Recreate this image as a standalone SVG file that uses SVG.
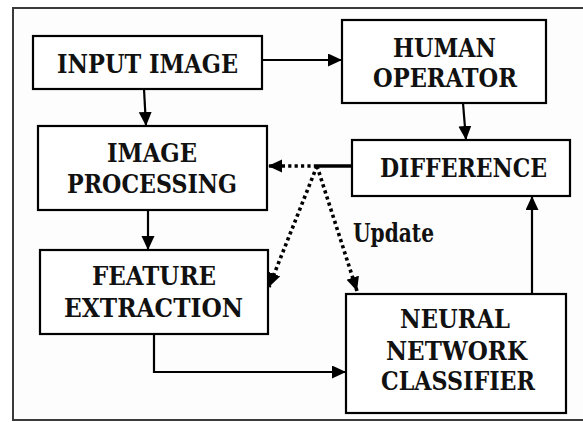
<svg xmlns="http://www.w3.org/2000/svg" width="583" height="422" viewBox="0 0 583 422">
  <style>
    .box { fill: #ffffff; stroke: #000000; stroke-width: 2.2; }
    .lbl { font-family: "DejaVu Serif Condensed", "DejaVu Serif", serif; font-weight: bold; font-size: 26px; fill: #111111; text-anchor: middle; }
    .wire { fill: none; stroke: #000000; stroke-width: 2.2; }
    .dots { fill: none; stroke: #000000; stroke-width: 3.6; stroke-dasharray: 3.2 3.2; }
  </style>
  <defs>
    <marker id="head" markerUnits="userSpaceOnUse" markerWidth="15" markerHeight="14" refX="14" refY="6.5" orient="auto">
      <path d="M0,0 L14,6.5 L0,13 z" fill="#000000"/>
    </marker>
  </defs>

  <!-- page background and outer frame -->
  <rect x="0" y="0" width="583" height="422" fill="#ffffff"/>
  <rect x="13" y="8" width="600" height="412" fill="#fdfdfd" stroke="#3a3a3a" stroke-width="2"/>

  <!-- connectors -->
  <g id="connectors">
    <path class="wire" d="M262,60 H342" marker-end="url(#head)"/>
    <path class="wire" d="M144,89 L146,126" marker-end="url(#head)"/>
    <path class="wire" d="M148,210 V250" marker-end="url(#head)"/>
    <path class="wire" d="M463,103 L466,140" marker-end="url(#head)"/>
    <path class="wire" d="M154,334 V372 H346" marker-end="url(#head)"/>
    <path class="wire" d="M532,294 V196" marker-end="url(#head)"/>
    <!-- update feedback from the difference block -->
    <path class="wire" d="M352,166 H317" style="stroke-width:3.4"/>
    <path class="dots" d="M317,166 H268" marker-end="url(#head)"/>
    <path class="dots" d="M317,166 L269,287" marker-end="url(#head)"/>
    <path class="dots" d="M317,166 L357,291" marker-end="url(#head)"/>
    <text x="353" y="242" class="lbl" style="text-anchor:start" textLength="81" lengthAdjust="spacingAndGlyphs">Update</text>
  </g>

  <g id="input-image">
    <rect class="box" x="33" y="36" width="229" height="53"/>
    <text class="lbl" x="147.5" y="73" textLength="181" lengthAdjust="spacingAndGlyphs">INPUT IMAGE</text>
  </g>

  <g id="human-operator">
    <rect class="box" x="342" y="20" width="204" height="83"/>
    <text class="lbl" x="444.5" y="57" textLength="103" lengthAdjust="spacingAndGlyphs">HUMAN</text>
    <text class="lbl" x="445" y="87" textLength="144" lengthAdjust="spacingAndGlyphs">OPERATOR</text>
  </g>

  <g id="image-processing">
    <rect class="box" x="38" y="126" width="229" height="84"/>
    <text class="lbl" x="152" y="162" textLength="90" lengthAdjust="spacingAndGlyphs">IMAGE</text>
    <text class="lbl" x="152" y="193" textLength="170" lengthAdjust="spacingAndGlyphs">PROCESSING</text>
  </g>

  <g id="difference">
    <rect class="box" x="352" y="140" width="218" height="56"/>
    <text class="lbl" x="463.5" y="177" textLength="167" lengthAdjust="spacingAndGlyphs">DIFFERENCE</text>
  </g>

  <g id="feature-extraction">
    <rect class="box" x="40" y="250" width="228" height="84"/>
    <text class="lbl" x="154" y="285" textLength="124" lengthAdjust="spacingAndGlyphs">FEATURE</text>
    <text class="lbl" x="153.5" y="317" textLength="179" lengthAdjust="spacingAndGlyphs">EXTRACTION</text>
  </g>

  <g id="neural-network-classifier">
    <rect class="box" x="346" y="294" width="220" height="119"/>
    <text class="lbl" x="455" y="328" textLength="110" lengthAdjust="spacingAndGlyphs">NEURAL</text>
    <text class="lbl" x="456.5" y="360" textLength="141" lengthAdjust="spacingAndGlyphs">NETWORK</text>
    <text class="lbl" x="458" y="390" textLength="154" lengthAdjust="spacingAndGlyphs">CLASSIFIER</text>
  </g>
</svg>
